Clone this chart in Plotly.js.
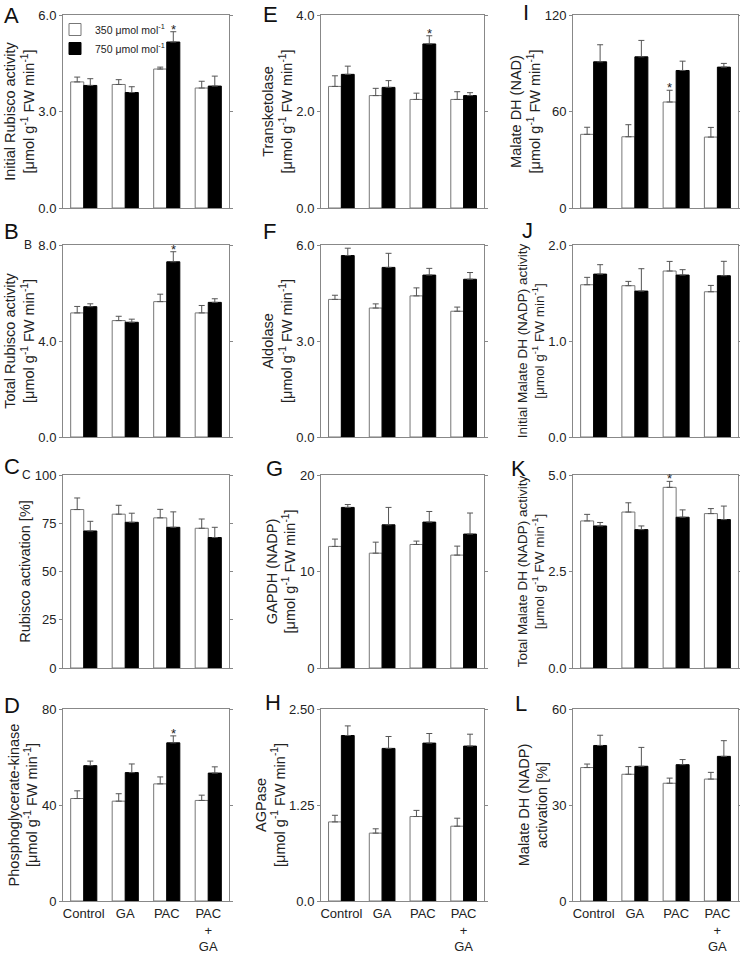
<!DOCTYPE html>
<html>
<head>
<meta charset="utf-8">
<script src="https://cdn.plot.ly/plotly-3.0.1.min.js"></script>
<style>
  body { margin: 0; background: #fff; }
  #chart { width: 740px; height: 953px; }
</style>
</head>
<body>
<div id="chart"></div>
<script>
// treatments
const cats = ['Control', 'GA', 'PAC', 'PAC+GA'];
const catLabels = ['Control', 'GA', 'PAC', 'PAC<br>+<br>GA'];
const seriesNames = ['350 μmol mol<sup>-1</sup>', '750 μmol mol<sup>-1</sup>'];

// A - initial Rubisco activity
const rubInit350 = [3.92, 3.84, 4.32, 3.73];
const rubInit350Err = [0.15, 0.15, 0.06, 0.21];
const rubInit750 = [3.81, 3.59, 5.16, 3.79];
const rubInit750Err = [0.21, 0.18, 0.32, 0.31];
// B - total Rubisco activity
const rubTot350 = [5.17, 4.85, 5.64, 5.17];
const rubTot350Err = [0.27, 0.18, 0.31, 0.31];
const rubTot750 = [5.43, 4.78, 7.30, 5.61];
const rubTot750Err = [0.12, 0.13, 0.42, 0.15];
// C - Rubisco activation
const rubAct350 = [82.1, 79.7, 77.8, 72.4];
const rubAct350Err = [6.0, 4.6, 4.4, 4.8];
const rubAct750 = [71.0, 75.5, 72.9, 67.6];
const rubAct750Err = [5.0, 4.7, 8.0, 5.3];
// D - phosphoglycerate kinase
const pgk350 = [42.7, 41.6, 48.8, 41.9];
const pgk350Err = [3.2, 3.1, 2.9, 2.2];
const pgk750 = [56.4, 53.5, 65.9, 53.3];
const pgk750Err = [1.9, 3.6, 2.9, 2.6];
// E - transketolase
const tk350 = [2.52, 2.33, 2.25, 2.25];
const tk350Err = [0.22, 0.15, 0.13, 0.16];
const tk750 = [2.77, 2.50, 3.40, 2.33];
const tk750Err = [0.17, 0.14, 0.17, 0.06];
// F - aldolase
const ald350 = [4.30, 4.03, 4.41, 3.93];
const ald350Err = [0.13, 0.13, 0.25, 0.13];
const ald750 = [5.67, 5.30, 5.06, 4.93];
const ald750Err = [0.23, 0.44, 0.21, 0.21];
// G - GAPDH (NADP)
const gapdh350 = [12.6, 11.9, 12.8, 11.7];
const gapdh350Err = [0.76, 1.14, 0.35, 0.93];
const gapdh750 = [16.64, 14.84, 15.12, 13.88];
const gapdh750Err = [0.3, 1.8, 1.1, 2.18];
// H - AGPase
const agp350 = [1.03, 0.884, 1.10, 0.974];
const agp350Err = [0.086, 0.056, 0.08, 0.104];
const agp750 = [2.155, 1.987, 2.056, 2.017];
const agp750Err = [0.125, 0.155, 0.125, 0.155];
// I - malate DH (NAD)
const mdhNad350 = [45.8, 44.3, 65.9, 44.1];
const mdhNad350Err = [4.4, 7.5, 7.3, 6.0];
const mdhNad750 = [90.9, 94.0, 85.5, 87.6];
const mdhNad750Err = [10.6, 10.2, 5.8, 2.3];
// J - initial malate DH (NADP)
const mdhInit350 = [1.586, 1.576, 1.729, 1.513];
const mdhInit350Err = [0.077, 0.045, 0.1, 0.066];
const mdhInit750 = [1.697, 1.52, 1.687, 1.68];
const mdhInit750Err = [0.098, 0.233, 0.056, 0.15];
// K - total malate DH (NADP)
const mdhTot350 = [3.81, 4.04, 4.68, 4.0];
const mdhTot350Err = [0.17, 0.24, 0.155, 0.13];
const mdhTot750 = [3.68, 3.585, 3.906, 3.845];
const mdhTot750Err = [0.09, 0.095, 0.19, 0.35];
// L - malate DH (NADP) activation
const mdhAct350 = [41.7, 39.6, 36.8, 38.1];
const mdhAct350Err = [1.1, 2.4, 1.6, 2.1];
const mdhAct750 = [48.6, 42.1, 42.6, 45.2];
const mdhAct750Err = [3.2, 5.9, 1.6, 4.9];

// tick labels per panel
const ticksA = ['0.0', '3.0', '6.0'];
const ticksB = ['0.0', '4.0', '8.0'];
const ticksC = ['0', '25', '50', '75', '100'];
const ticksD = ['0', '40', '80'];
const ticksE = ['0.0', '2.0', '4.0'];
const ticksF = ['0.0', '3.0', '6.0'];
const ticksG = ['0', '10', '20'];
const ticksH = ['0.0', '1.25', '2.50'];
const ticksI = ['0', '60', '120'];
const ticksJ = ['0.0', '1.0', '2.0'];
const ticksK = ['0.0', '2.5', '5.0'];
const ticksL = ['0', '30', '60'];

// significant differences: panel, treatment, series index (0 = 350, 1 = 750)
const stars = [
    ['A', 'PAC', 1], ['B', 'PAC', 1], ['D', 'PAC', 1],
    ['E', 'PAC', 1], ['I', 'PAC', 0], ['K', 'PAC', 0]
];

const unit = '[μmol g<sup>-1</sup> FW min<sup>-1</sup>]';

const panels = [
    { id: 'A', v: [rubInit350, rubInit750], e: [rubInit350Err, rubInit750Err], ticks: ticksA, title: 'Initial Rubisco activity<br>' + unit },
    { id: 'B', v: [rubTot350, rubTot750], e: [rubTot350Err, rubTot750Err], ticks: ticksB, title: 'Total Rubisco activity<br>' + unit },
    { id: 'C', v: [rubAct350, rubAct750], e: [rubAct350Err, rubAct750Err], ticks: ticksC, title: 'Rubisco activation [%]' },
    { id: 'D', v: [pgk350, pgk750], e: [pgk350Err, pgk750Err], ticks: ticksD, title: 'Phosphoglycerate-kinase<br>' + unit },
    { id: 'E', v: [tk350, tk750], e: [tk350Err, tk750Err], ticks: ticksE, title: 'Transketolase<br>' + unit },
    { id: 'F', v: [ald350, ald750], e: [ald350Err, ald750Err], ticks: ticksF, title: 'Aldolase<br>' + unit },
    { id: 'G', v: [gapdh350, gapdh750], e: [gapdh350Err, gapdh750Err], ticks: ticksG, title: 'GAPDH (NADP)<br>' + unit },
    { id: 'H', v: [agp350, agp750], e: [agp350Err, agp750Err], ticks: ticksH, title: 'AGPase<br>' + unit },
    { id: 'I', v: [mdhNad350, mdhNad750], e: [mdhNad350Err, mdhNad750Err], ticks: ticksI, title: 'Malate DH (NAD)<br>' + unit },
    { id: 'J', v: [mdhInit350, mdhInit750], e: [mdhInit350Err, mdhInit750Err], ticks: ticksJ, title: 'Initial Malate DH (NADP) activity<br>' + unit },
    { id: 'K', v: [mdhTot350, mdhTot750], e: [mdhTot350Err, mdhTot750Err], ticks: ticksK, title: 'Total Malate DH (NADP) activity<br>' + unit },
    { id: 'L', v: [mdhAct350, mdhAct750], e: [mdhAct350Err, mdhAct750Err], ticks: ticksL, title: 'Malate DH (NADP)<br>activation [%]' }
];

// pixel layout of the grid
const W = 740, H = 953;
const colPx = [[63, 229], [321, 484], [573, 738]];
const rowPx = [[15, 208], [245, 437], [475, 668], [709, 901]];
const letterPos = {
    A: [2, 15], B: [2, 232], C: [2, 467], D: [2, 705],
    E: [261, 14], F: [261, 232], G: [264, 468], H: [263, 702],
    I: [521, 13], J: [520, 230], K: [509, 468], L: [513, 703]
};

const fontFam = '"Liberation Sans", Arial, sans-serif';
const fillCols = ['#ffffff', '#000000'];
const lineCols = ['#777777', '#000000'];

const traces = [];
const annotations = [];
const layout = {
    width: W, height: H,
    margin: { l: 0, r: 0, t: 0, b: 0 },
    paper_bgcolor: '#fff', plot_bgcolor: '#fff',
    font: { family: fontFam, size: 13, color: '#222' },
    barmode: 'group', bargap: 0.37, bargroupgap: 0,
    showlegend: true,
    legend: {
        x: 55 / W, y: 1 - 15 / H, xanchor: 'left', yanchor: 'top',
        bgcolor: 'rgba(0,0,0,0)', font: { size: 10.5 }, itemwidth: 30,
        tracegroupgap: 0
    },
    annotations: annotations
};

panels.forEach(function(p, i) {
    const n = i + 1;
    const col = Math.floor(i / 4), row = i % 4;
    const xs = n === 1 ? '' : n;
    const maxVal = parseFloat(p.ticks[p.ticks.length - 1]);
    const tickvals = p.ticks.map(t => parseFloat(t));

    for (let s = 0; s < 2; s++) {
        traces.push({
            type: 'bar',
            name: seriesNames[s],
            x: cats, y: p.v[s],
            xaxis: 'x' + xs, yaxis: 'y' + xs,
            showlegend: i === 0,
            marker: { color: fillCols[s], line: { color: lineCols[s], width: 1 } },
            error_y: {
                type: 'data', symmetric: false,
                array: p.e[s], arrayminus: p.e[s].map(() => 0),
                color: '#555', thickness: 1, width: 3
            },
            hoverinfo: 'y'
        });
    }

    layout['xaxis' + xs] = {
        domain: [colPx[col][0] / W, colPx[col][1] / W],
        anchor: 'y' + xs,
        type: 'category',
        tickvals: cats, ticktext: catLabels,
        showticklabels: row === 3,
        ticks: '', tickfont: { size: 13 },
        showline: true, mirror: true, linecolor: '#888', linewidth: 1,
        showgrid: false, zeroline: false, fixedrange: true
    };
    layout['yaxis' + xs] = {
        domain: [1 - rowPx[row][1] / H, 1 - rowPx[row][0] / H],
        anchor: 'x' + xs,
        range: [0, maxVal],
        tickvals: tickvals, ticktext: p.ticks,
        ticks: 'outside', ticklen: 3, tickcolor: '#888',
        tickfont: { size: 13 },
        showline: true, mirror: 'ticks', linecolor: '#888', linewidth: 1,
        showgrid: false, zeroline: false, fixedrange: true,
        title: { text: p.title, font: { size: col === 2 && (row === 1 || row === 2) ? 13.5 : 14.5, color: '#222' }, standoff: 0 }
    };

    const lp = letterPos[p.id];
    annotations.push({
        xref: 'paper', yref: 'paper', x: lp[0] / W, y: 1 - lp[1] / H,
        xanchor: 'left', yanchor: 'middle', text: p.id, showarrow: false,
        font: { size: 22, color: '#111' }
    });
});

// stray sub-letters beside the top ticks of B and C
annotations.push({ xref: 'paper', yref: 'paper', x: 22 / W, y: 1 - 245 / H, xanchor: 'left', yanchor: 'middle', text: 'B', showarrow: false, font: { size: 12 } });
annotations.push({ xref: 'paper', yref: 'paper', x: 20 / W, y: 1 - 475 / H, xanchor: 'left', yanchor: 'middle', text: 'C', showarrow: false, font: { size: 12 } });

// asterisks above significant bars
stars.forEach(function(st) {
    const i = panels.findIndex(p => p.id === st[0]);
    const p = panels[i];
    const g = cats.indexOf(st[1]);
    const xs = i === 0 ? '' : i + 1;
    annotations.push({
        xref: 'x' + xs, yref: 'y' + xs,
        x: cats[g], y: p.v[st[2]][g] + p.e[st[2]][g],
        xshift: st[2] === 0 ? -6.5 : 6.5, yshift: -7,
        xanchor: 'center', yanchor: 'bottom',
        text: '*', showarrow: false, font: { size: 13, color: '#222' }
    });
});

Plotly.newPlot('chart', traces, layout, { displayModeBar: false, staticPlot: true });
</script>
</body>
</html>
